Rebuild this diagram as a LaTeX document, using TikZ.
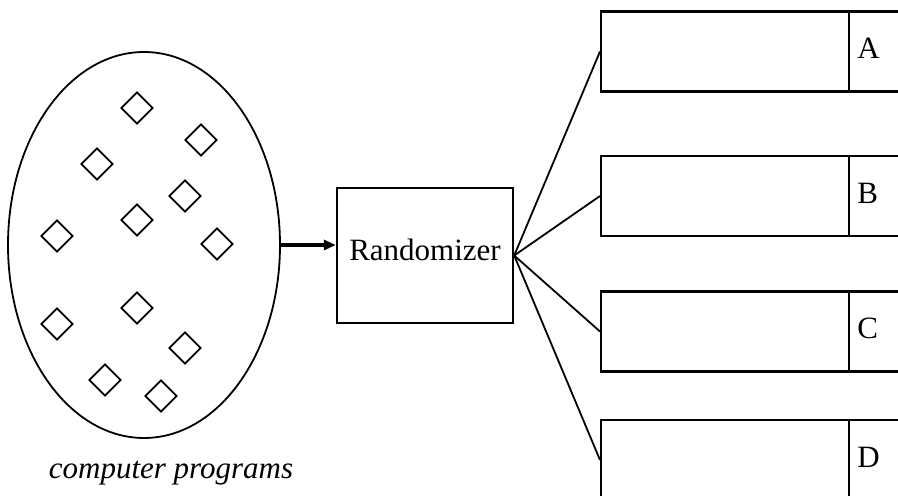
\documentclass[tikz,border=0pt]{standalone}
\usepackage{fontspec}
\setmainfont{Liberation Serif}
\usetikzlibrary{shapes.geometric,arrows.meta}
\begin{document}
\begin{tikzpicture}[x=0.5pt, y=-0.5pt, font=\fontsize{15.5}{18}\selectfont,
    prog/.style={shape=diamond, draw=black, line width=0.9pt, inner sep=0pt, minimum size=16pt},
    slot/.style={draw=black, line width=1.2pt, inner sep=0pt, minimum width=200pt, minimum height=40pt, anchor=west}]
    \useasboundingbox (0,0) rectangle (898,496);
    \clip (0,0) rectangle (898,496);

    \node[shape=ellipse, draw=black, line width=0.9pt, inner sep=0pt, minimum width=136pt, minimum height=193pt] (pool) at (144,245) {};
    \foreach \i/\x/\y in {1/137/108, 2/201/140, 3/97/164, 4/185/196, 5/137/220, 6/57/236,
        7/217/244, 8/137/308, 9/57/324, 10/185/348, 11/105/380, 12/161/396}
        \node[prog] (prog\i) at (\x,\y) {};

    \node[draw=black, line width=1.2pt, inner sep=0pt, minimum width=88pt, minimum height=67.5pt, text depth=6pt] (rand) at (425,255.5) {Randomizer};
    \draw[line width=1.6pt, -{Triangle[length=6pt, width=5pt]}] (pool.east) -- (pool.east -| rand.west);

    \foreach \name/\y in {A/51.5, B/196, C/331.5, D/460} {
        \node[slot] (box\name) at (600,\y) {};
        \draw[line width=1.2pt] ([xshift=124.5pt]box\name.north west) -- ([xshift=124.5pt]box\name.south west);
        \node[anchor=west, inner sep=0pt, yshift=1.5pt] (lab\name) at ([xshift=128.5pt]box\name.west) {\name};
        \draw[line width=0.9pt] (rand.east) -- (box\name.west);
    }

    \node[anchor=base, font=\fontsize{15.5}{18}\selectfont\itshape] (caption) at (171,478) {computer programs};
\end{tikzpicture}
\end{document}
